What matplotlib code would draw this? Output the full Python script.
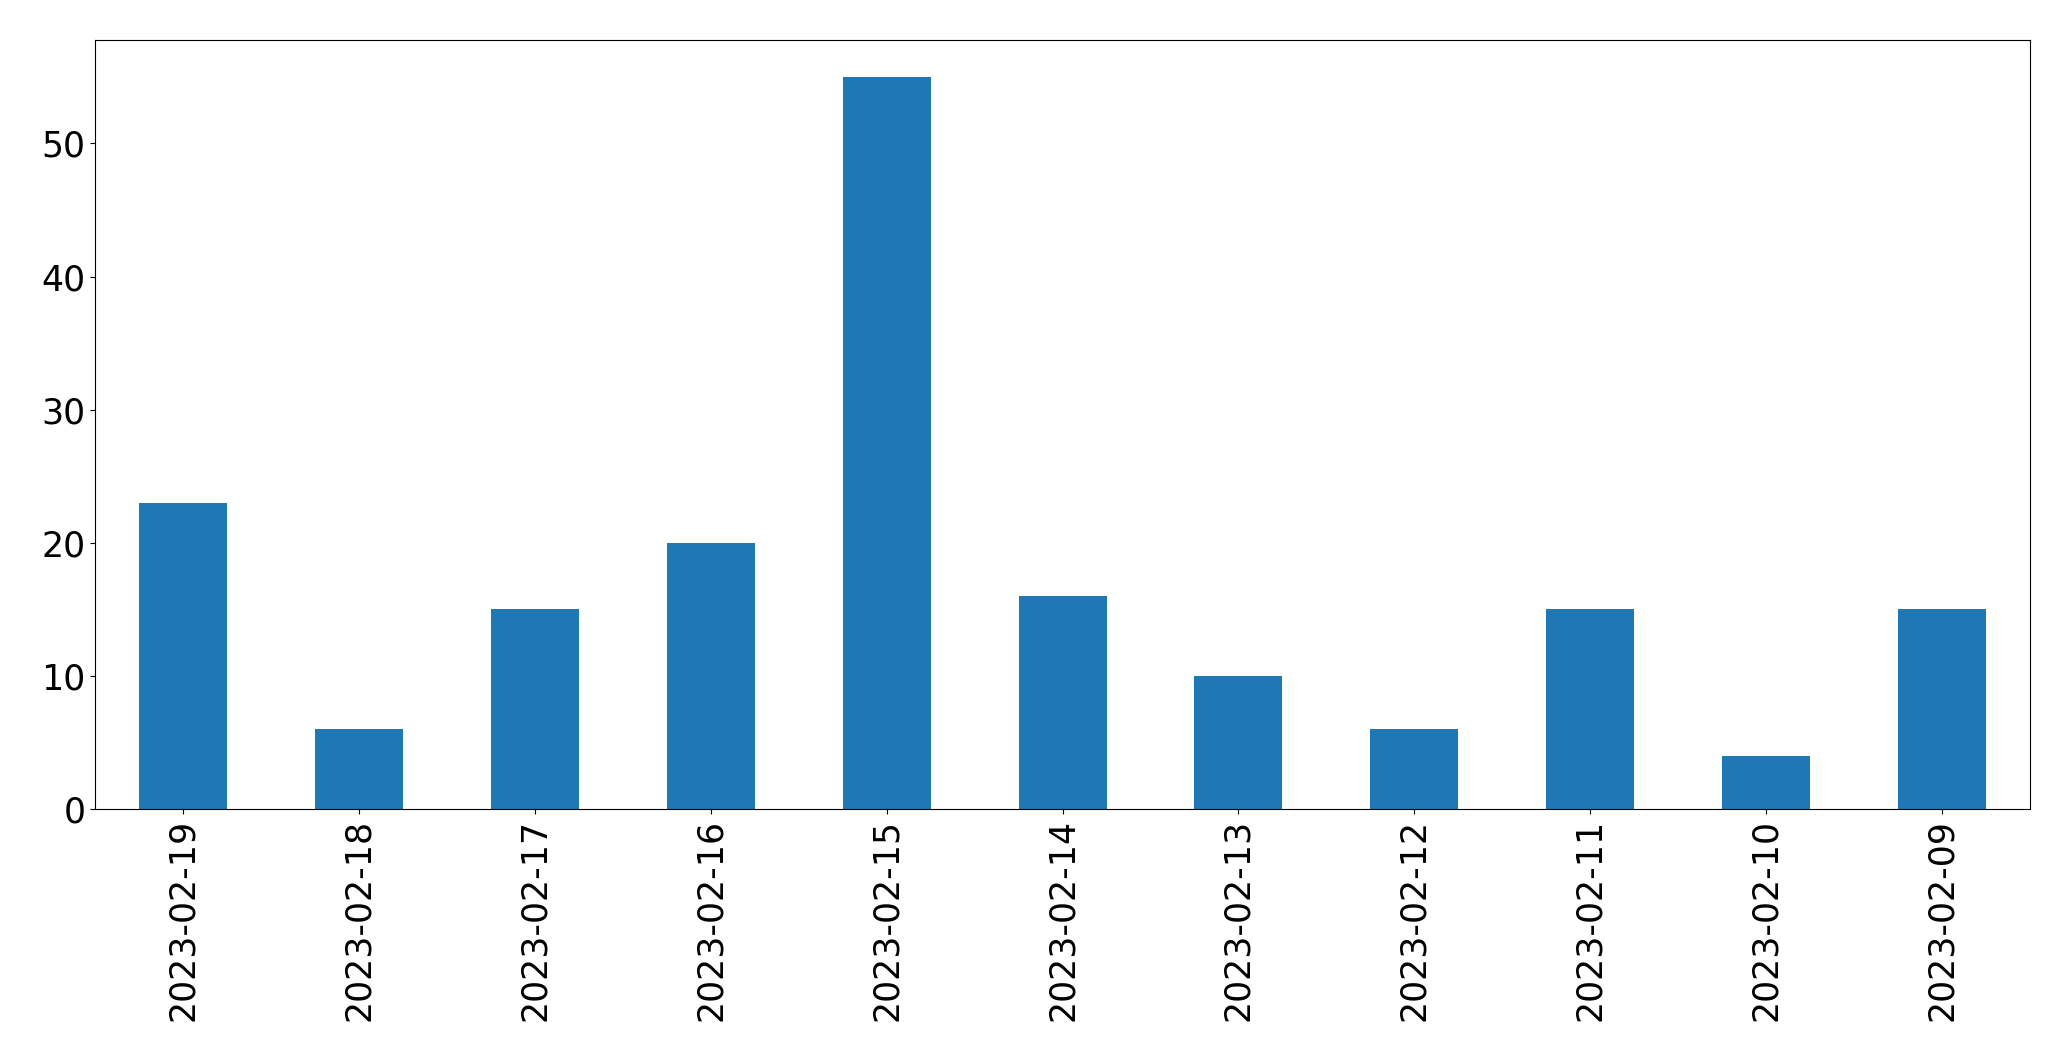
import pandas as pd
import matplotlib
matplotlib.use('Agg')
import matplotlib.pyplot as plt

dates = ['2023-02-19', '2023-02-18', '2023-02-17', '2023-02-16', '2023-02-15',
         '2023-02-14', '2023-02-13', '2023-02-12', '2023-02-11', '2023-02-10',
         '2023-02-09']
counts = [23, 6, 15, 20, 55, 16, 10, 6, 15, 4, 15]

s = pd.Series(counts, index=dates)

fig, ax = plt.subplots(figsize=(20.71, 10.61), dpi=100)
s.plot(kind='bar', ax=ax, color='#1f77b4', fontsize=25)
ax.tick_params(axis='both', labelsize=25)
fig.subplots_adjust(left=0.0459, right=0.9802, top=0.962, bottom=0.2375)
fig.savefig('out.png', dpi=100)
